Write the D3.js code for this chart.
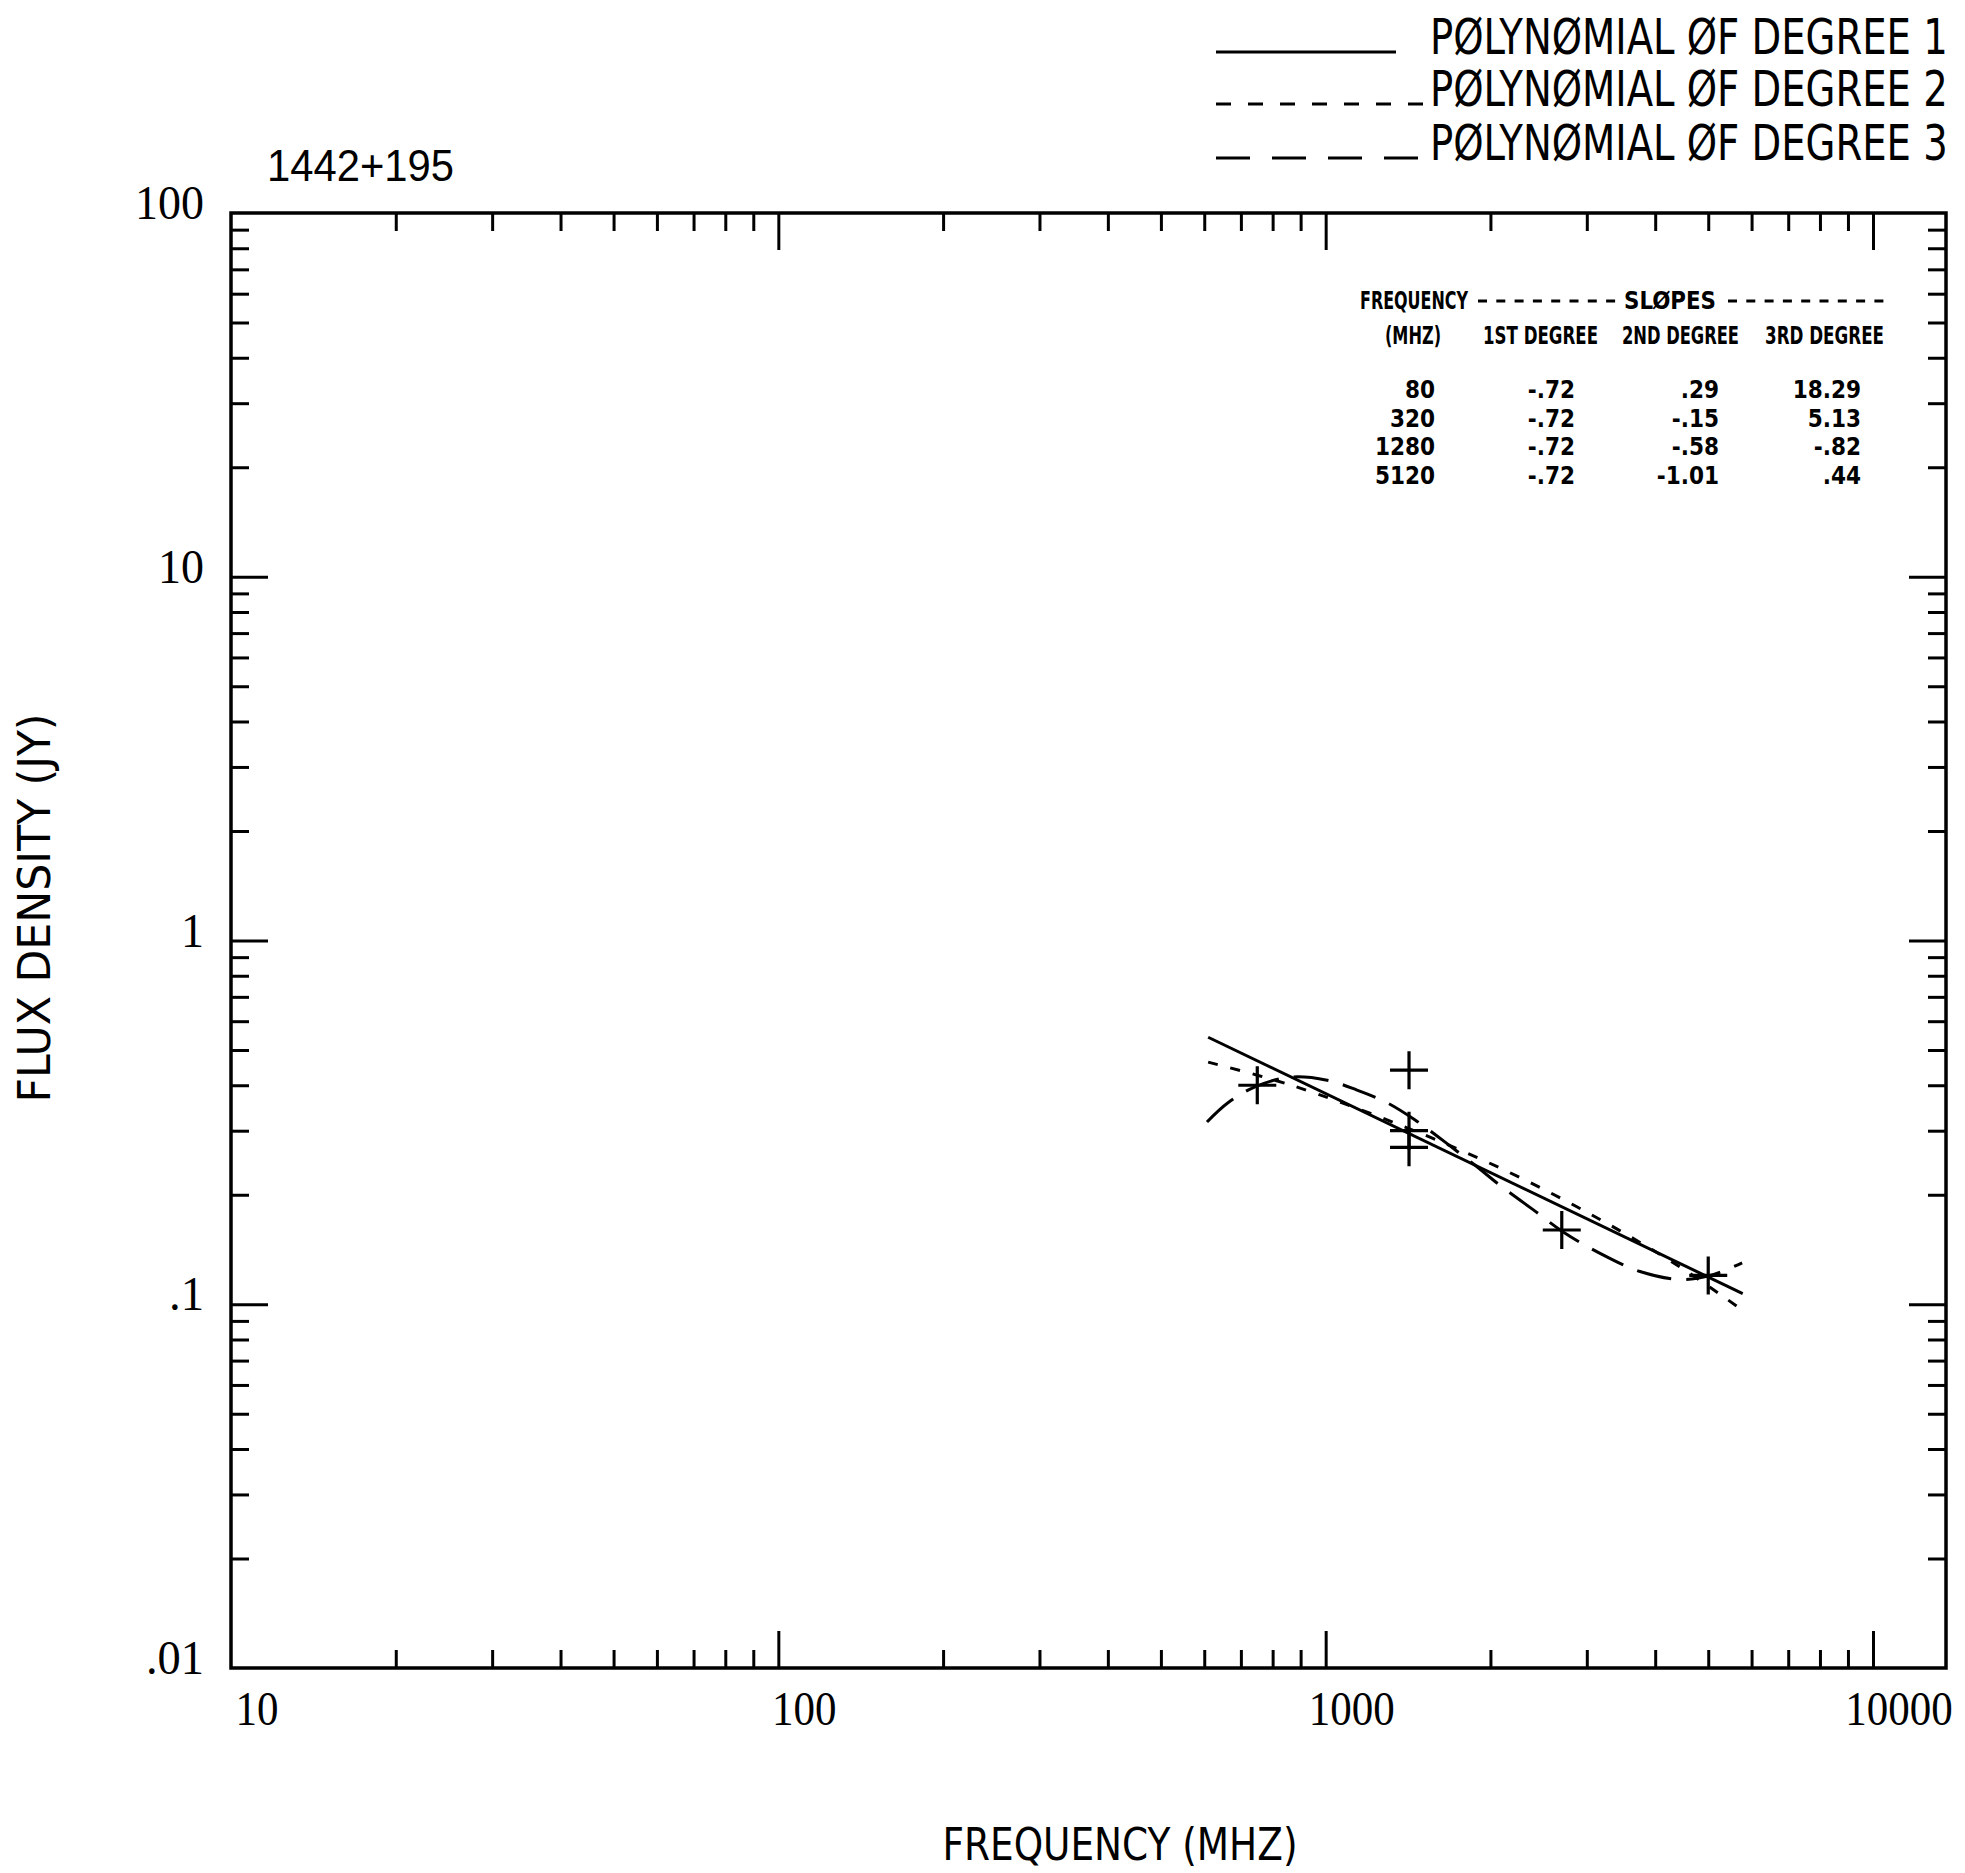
<!DOCTYPE html>
<html>
<head>
<meta charset="utf-8">
<script src="https://cdn.jsdelivr.net/npm/d3@7/dist/d3.min.js"></script>
<style>
  html, body { margin: 0; padding: 0; background: #fff; }
  svg { display: block; }
</style>
</head>
<body>
<script>
// ---------------- data ----------------
const sourceName = "1442+195";
const xTickLabels = ["10", "100", "1000", "10000"];
const xTickValues = [10, 100, 1000, 10000];
const yTickLabels = ["100", "10", "1", ".1", ".01"];
const yTickValues = [100, 10, 1, 0.1, 0.01];

// measured points (MHz, Jy)
const pointFreqs = [750, 1420, 1420, 1420, 2700, 5000];
const pointFlux  = [0.40, 0.44, 0.30, 0.27, 0.16, 0.12];

// fitted curves
const deg1Freqs = [610, 5780];
const deg1Flux  = [0.542, 0.107];
const deg2Freqs = [610, 861, 1368, 2145, 3172, 4479, 5766];
const deg2Flux  = [0.463, 0.401, 0.311, 0.232, 0.171, 0.1255, 0.0964];
const deg3Freqs = [607, 663, 743, 861, 1006, 1141, 1295, 1457, 1653, 1875, 2101, 2393, 2716, 3172, 3754, 4441, 5039, 5766];
const deg3Flux  = [0.317, 0.358, 0.396, 0.421, 0.413, 0.388, 0.358, 0.321, 0.279, 0.241, 0.210, 0.182, 0.158, 0.138, 0.123, 0.117, 0.120, 0.130];

const legendLabels = ["PØLYNØMIAL ØF DEGREE 1", "PØLYNØMIAL ØF DEGREE 2", "PØLYNØMIAL ØF DEGREE 3"];

// slope table
const tableHeaderFreq = "FREQUENCY";
const tableHeaderSlopes = "SLØPES";
const tableHeader2 = ["(MHZ)", "1ST DEGREE", "2ND DEGREE", "3RD DEGREE"];
const tableFreqs   = ["80", "320", "1280", "5120"];
const slopes1      = ["-.72", "-.72", "-.72", "-.72"];
const slopes2      = [".29", "-.15", "-.58", "-1.01"];
const slopes3      = ["18.29", "5.13", "-.82", ".44"];

const xTitle = "FREQUENCY (MHZ)";
const yTitle = "FLUX DENSITY (JY)";

// ---------------- layout ----------------
const W = 1965, H = 1873;
const L = 231, R = 1946, T = 213, B = 1668;
const plotFont = "'Liberation Sans Narrow', 'DejaVu Sans Condensed', 'Liberation Sans', sans-serif";
const numFont = "'Liberation Serif', 'DejaVu Serif', serif";

const svg = d3.select("body").append("svg")
  .attr("width", W).attr("height", H)
  .attr("viewBox", `0 0 ${W} ${H}`);
svg.append("rect").attr("width", W).attr("height", H).attr("fill", "#fff");

const x = d3.scaleLog().domain([10, 10000]).range([L, 1873]);
const y = d3.scaleLog().domain([0.01, 100]).range([B, T]);

const isPow10 = v => Math.abs(Math.log10(v) - Math.round(Math.log10(v))) < 1e-9;
const xMinor = x.ticks().filter(v => !isPow10(v));
const xMajor = x.ticks().filter(v => isPow10(v) && v > 10);
const yMinor = y.ticks().filter(v => !isPow10(v));
const yMajor = y.ticks().filter(v => isPow10(v) && v > 0.01 && v < 100);

function styleAxis(g) {
  g.select(".domain").remove();
  g.selectAll(".tick line").attr("stroke", "#000").attr("stroke-width", 3);
  g.selectAll(".tick text").remove();
}

// squeeze a text horizontally to a target width, keeping its height
function fitWidth(sel, x0, y0, target) {
  const w = sel.node().getComputedTextLength();
  sel.attr("x", 0).attr("y", 0)
    .attr("transform", `translate(${x0},${y0}) scale(${target / w},1)`);
}

// ticks (inward)
const minorLen = 18, majorLen = 37;
[[d3.axisBottom, B], [d3.axisTop, T]].forEach(([ax, pos]) => {
  svg.append("g").attr("transform", `translate(0,${pos})`)
    .call(ax(x).tickValues(xMinor).tickSize(-minorLen).tickFormat("")).call(styleAxis);
  svg.append("g").attr("transform", `translate(0,${pos})`)
    .call(ax(x).tickValues(xMajor).tickSize(-majorLen).tickFormat("")).call(styleAxis);
});
[[d3.axisLeft, L], [d3.axisRight, R]].forEach(([ax, pos]) => {
  svg.append("g").attr("transform", `translate(${pos},0)`)
    .call(ax(y).tickValues(yMinor).tickSize(-minorLen).tickFormat("")).call(styleAxis);
  svg.append("g").attr("transform", `translate(${pos},0)`)
    .call(ax(y).tickValues(yMajor).tickSize(-majorLen).tickFormat("")).call(styleAxis);
});

// frame
svg.append("rect").attr("x", L).attr("y", T).attr("width", R - L).attr("height", B - T)
  .attr("fill", "none").attr("stroke", "#000").attr("stroke-width", 3.5);

// tick labels
svg.append("g").selectAll("text").data(xTickValues).join("text")
  .attr("x", d => x(d) + 26).attr("y", B + 57)
  .attr("text-anchor", "middle")
  .attr("font-family", numFont).attr("font-size", 48)
  .attr("textLength", (d, i) => xTickLabels[i].length * 21.5)
  .attr("lengthAdjust", "spacingAndGlyphs")
  .text((d, i) => xTickLabels[i]);

svg.append("g").selectAll("text").data(yTickValues).join("text")
  .attr("x", 204).attr("y", d => y(d) + 6)
  .attr("text-anchor", "end")
  .attr("font-family", numFont).attr("font-size", 48)
  .attr("textLength", (d, i) => yTickLabels[i].replace(".", "").length * 23 + (yTickLabels[i].includes(".") ? 12 : 0))
  .attr("lengthAdjust", "spacingAndGlyphs")
  .text((d, i) => yTickLabels[i]);

// title
svg.append("text").attr("x", 267).attr("y", 181)
  .attr("font-family", "'Liberation Sans', Arimo, sans-serif").attr("font-size", 44)
  .attr("textLength", 187).attr("lengthAdjust", "spacingAndGlyphs")
  .text(sourceName);

// axis titles
svg.append("text").attr("x", 1120).attr("y", 1860)
  .attr("text-anchor", "middle")
  .attr("font-family", plotFont).attr("font-size", 45)
  .attr("textLength", 355).attr("lengthAdjust", "spacingAndGlyphs")
  .text(xTitle);
svg.append("text").attr("transform", "translate(50,908) rotate(-90)")
  .attr("text-anchor", "middle")
  .attr("font-family", plotFont).attr("font-size", 45)
  .attr("textLength", 389).attr("lengthAdjust", "spacingAndGlyphs")
  .text(yTitle);

// curves
const line = d3.line().x(d => x(d[0])).y(d => y(d[1])).curve(d3.curveCatmullRom.alpha(0.5));
const series = [
  { f: deg1Freqs, v: deg1Flux, dash: null,    legendDash: null,    legendEnd: 1396 },
  { f: deg2Freqs, v: deg2Flux, dash: "10,13", legendDash: "15,17", legendEnd: 1428 },
  { f: deg3Freqs, v: deg3Flux, dash: "35,15", legendDash: "34,22", legendEnd: 1428 }
];
series.forEach(s => {
  svg.append("path")
    .attr("d", line(s.f.map((f, i) => [f, s.v[i]])))
    .attr("fill", "none").attr("stroke", "#000").attr("stroke-width", 3)
    .attr("stroke-dasharray", s.dash);
});

// points
svg.append("g").selectAll("path").data(pointFreqs).join("path")
  .attr("transform", (d, i) => `translate(${x(d)},${y(pointFlux[i])})`)
  .attr("d", "M-19,0H19M0,-19V19")
  .attr("stroke", "#000").attr("stroke-width", 3.2).attr("fill", "none");

// legend
const legendBase = [54, 106, 160];
series.forEach((s, i) => {
  svg.append("line")
    .attr("x1", 1216).attr("x2", s.legendEnd)
    .attr("y1", legendBase[i] - 2).attr("y2", legendBase[i] - 2)
    .attr("stroke", "#000").attr("stroke-width", 3)
    .attr("stroke-dasharray", s.legendDash);
  const t = svg.append("text")
    .attr("font-family", plotFont).attr("font-size", 49)
    .text(legendLabels[i]);
  fitWidth(t, 1430, legendBase[i], 518);
});

// slope table
const tFont = plotFont;
const tSize = 24;
svg.append("text").attr("x", 1360).attr("y", 309)
  .attr("font-family", tFont).attr("font-weight", "bold").attr("font-size", tSize)
  .attr("textLength", 108).attr("lengthAdjust", "spacingAndGlyphs")
  .text(tableHeaderFreq);
svg.append("text").attr("x", 1624).attr("y", 309)
  .attr("font-family", tFont).attr("font-weight", "bold").attr("font-size", tSize)
  .attr("textLength", 92).attr("lengthAdjust", "spacingAndGlyphs")
  .text(tableHeaderSlopes);
[[1478, 1618], [1728, 1886]].forEach(([a, b]) => {
  svg.append("line").attr("x1", a).attr("x2", b).attr("y1", 301).attr("y2", 301)
    .attr("stroke", "#000").attr("stroke-width", 3).attr("stroke-dasharray", "9,9.3");
});
const hdrX = [1385, 1483, 1622, 1765];
const hdrW = [56, 115, 117, 119];
tableHeader2.forEach((t, i) => {
  svg.append("text").attr("x", hdrX[i]).attr("y", 344)
    .attr("font-family", tFont).attr("font-weight", "bold").attr("font-size", tSize)
    .attr("textLength", hdrW[i]).attr("lengthAdjust", "spacingAndGlyphs")
    .text(t);
});
const colRight = [1435, 1575, 1719, 1861];
const rowY = [398, 427, 455, 484];
[tableFreqs, slopes1, slopes2, slopes3].forEach((col, c) => {
  col.forEach((t, r) => {
    svg.append("text").attr("x", colRight[c]).attr("y", rowY[r])
      .attr("text-anchor", "end")
      .attr("font-family", tFont).attr("font-weight", "bold").attr("font-size", tSize)
      .text(t);
  });
});
</script>
</body>
</html>
